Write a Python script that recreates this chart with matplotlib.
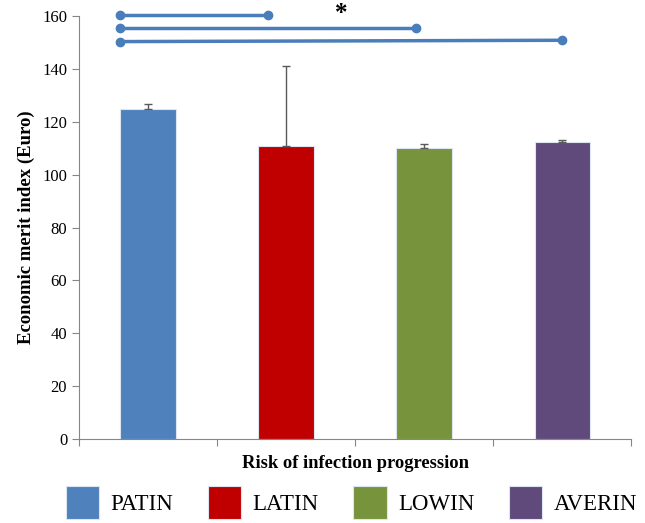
import numpy as np
import matplotlib.pyplot as plt

plt.rcParams['font.family'] = ['Liberation Serif', 'DejaVu Serif']

# data
groups = ["PATIN", "LATIN", "LOWIN", "AVERIN"]
values = [125.0, 111.0, 110.0, 112.5]
errors = [1.7, 30.0, 1.8, 0.6]
colors = ["#4F81BD", "#C00000", "#77933C", "#604A7B"]

# significance brackets: (start x, end x, y left, y right)
sig_lines = [(-0.2, 0.87, 160.5, 160.5),
             (-0.2, 1.94, 155.5, 155.5),
             (-0.2, 3.0, 150.4, 150.9)]
sig_star = (1.4, 161.0)

fig = plt.figure(figsize=(6.45, 5.23), dpi=100)
ax = fig.add_axes([0.1225, 0.1606, 0.856, 0.8084])

x = np.arange(len(groups))
bars = ax.bar(x, values, width=0.4, color=colors, edgecolor="#DDE6F0", linewidth=0.8)
ax.errorbar(x, values, yerr=[np.zeros(len(errors)), errors], fmt="none",
            ecolor="#595959", elinewidth=1.0, capsize=3, capthick=1.0)

for x0, x1, y0, y1 in sig_lines:
    ax.plot([x0, x1], [y0, y1], color="#4A7EBB", linewidth=2.5, marker="o",
            markersize=6, clip_on=False, zorder=5)
ax.text(sig_star[0], sig_star[1], "*", ha="center", va="center", fontsize=18,
        fontweight="bold", clip_on=False)

ax.set_xlim(-0.5, 3.5)
ax.set_ylim(0, 160)
ax.set_yticks(np.arange(0, 161, 20))
ax.set_xticks(np.arange(-0.5, 3.6, 1.0))
ax.set_xticklabels([])
ax.tick_params(axis="both", direction="out", color="#868686", labelsize=12, length=5)
for s in ["top", "right"]:
    ax.spines[s].set_visible(False)
for s in ["left", "bottom"]:
    ax.spines[s].set_color("#868686")

ax.set_ylabel("Economic merit index (Euro)", fontsize=13.5, fontweight="bold", labelpad=5)
ax.set_xlabel("Risk of infection progression", fontsize=13.3, fontweight="bold", labelpad=3)

fig.legend(bars, groups, loc="lower center", bbox_to_anchor=(0.545, -0.018), ncol=4,
           frameon=False, fontsize=16.5, handlelength=1.45, handleheight=1.8,
           handletextpad=0.5, columnspacing=1.5, borderaxespad=0.2)

fig.savefig("out.png", dpi=100)
